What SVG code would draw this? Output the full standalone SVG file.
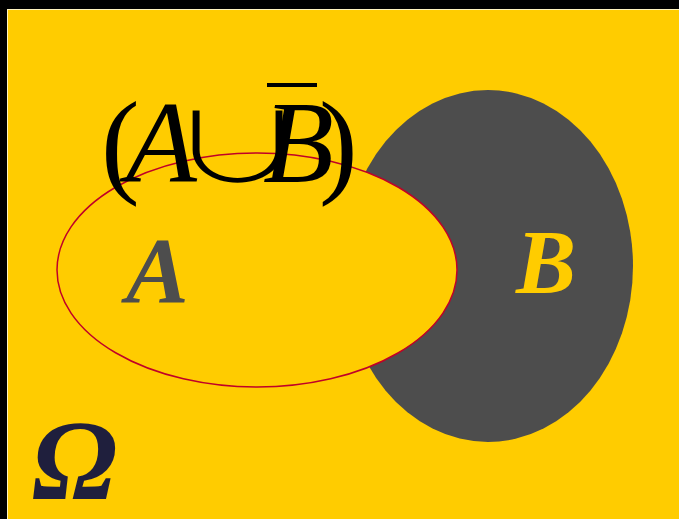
<svg xmlns="http://www.w3.org/2000/svg" width="679" height="519" viewBox="0 0 679 519">
<style>
.lbl{font-family:"Liberation Serif","DejaVu Serif",serif;font-style:italic;font-weight:bold}
.f{font-family:"Liberation Serif","DejaVu Serif",serif;fill:#000}
.cup{font-family:"Noto Sans CJK JP","DejaVu Sans",sans-serif;font-weight:300;font-style:normal;fill:#000}
</style>
<rect x="0" y="0" width="679" height="519" fill="#000"/>
<rect x="7.5" y="9.5" width="680" height="520" fill="#FFCC00" stroke="#FFF4C0" stroke-width="1"/>
<g id="setB">
<ellipse cx="488" cy="266" rx="145" ry="176" fill="#4D4D4D"/>
</g>
<g id="setA">
<ellipse cx="257" cy="270" rx="200" ry="117" fill="#FFCC00" stroke="#C00028" stroke-width="1.5"/>
</g>
<g id="labels">
<text class="lbl" x="126" y="302" font-size="94" fill="#4D4D4D">A</text>
<text class="lbl" x="516" y="293" font-size="90" fill="#FFCC00">B</text>
<text class="lbl" x="32" y="499" font-size="114" fill="#1F1F3D">Ω</text>
</g>
<g id="formula">
<text class="f" y="182" font-size="116"><tspan x="101">(</tspan><tspan x="126" font-style="italic">A</tspan><tspan x="263" font-style="italic">B</tspan><tspan x="319">)</tspan></text>
<text class="cup" x="0" y="0" font-size="96" transform="translate(168,182) scale(1.45,1)">∪</text>
<rect x="267" y="83" width="50" height="4" fill="#000"/>
</g>
</svg>
